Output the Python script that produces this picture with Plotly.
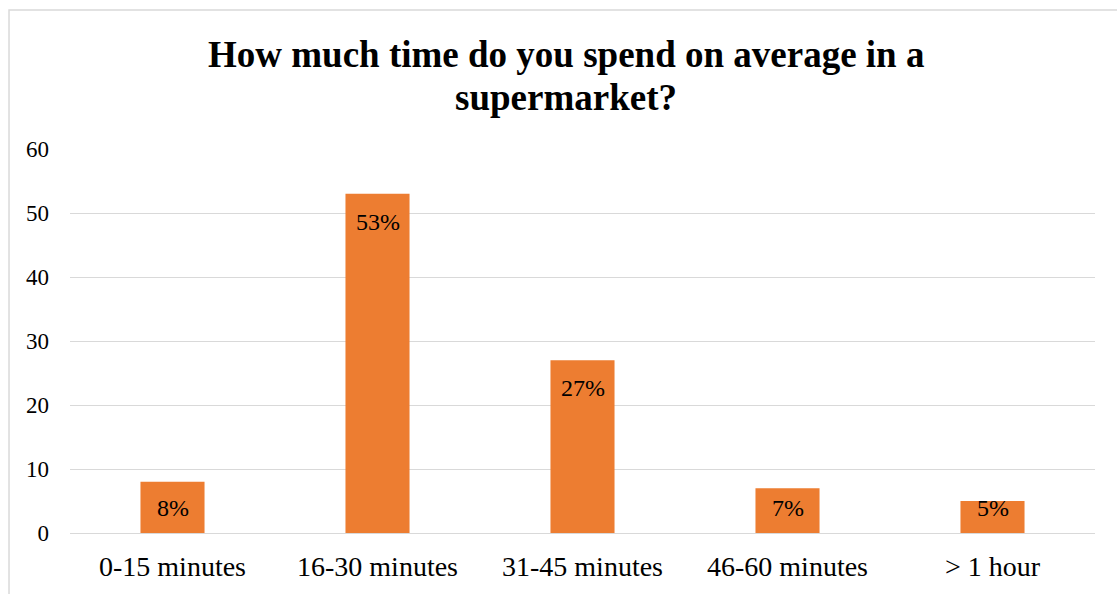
import plotly.graph_objects as go

categories = ["0-15 minutes", "16-30 minutes", "31-45 minutes", "46-60 minutes", "> 1 hour"]
values = [8, 53, 27, 7, 5]
labels = ["8%", "53%", "27%", "7%", "5%"]
y_ticks = [0, 10, 20, 30, 40, 50, 60]
title_lines = ["How much time do you spend on average in a", "supermarket?"]

FONT = "Liberation Serif, Times New Roman, serif"

fig = go.Figure()
fig.add_trace(go.Bar(
    x=categories, y=values,
    marker=dict(color="#ED7D31", line=dict(width=0)),
    hoverinfo="skip",
))

# data labels: inside end, but never lower than a minimum height
min_label_y = 3.9
for c, v, t in zip(categories, values, labels):
    fig.add_annotation(
        x=c, y=max(v - 4.4, min_label_y), text=t, showarrow=False,
        xanchor="center", yanchor="middle",
        font=dict(family=FONT, size=24, color="#000000"),
    )

# title (two lines, tight line spacing)
for line, ty in zip(title_lines, [1.2448, 1.1354]):
    fig.add_annotation(
        xref="paper", yref="paper", x=0.484, y=ty, text="<b>" + line + "</b>",
        showarrow=False, xanchor="center", yanchor="middle",
        font=dict(family=FONT, size=37, color="#000000"),
    )

# chart border
fig.add_shape(type="rect", xref="paper", yref="paper",
              x0=-0.0595, x1=1.2, y0=-0.3, y1=1.362,
              line=dict(color="#D9D9D9", width=1.5), fillcolor="rgba(0,0,0,0)", layer="below")

fig.update_layout(
    width=1117, height=594,
    margin=dict(l=70, r=22, t=149, b=61),
    paper_bgcolor="white", plot_bgcolor="white",
    bargap=0.6875,
    showlegend=False,
    font=dict(family=FONT, color="#000000"),
)
fig.update_xaxes(
    showgrid=False, showline=False, zeroline=False, ticks="",
    tickfont=dict(family=FONT, size=28, color="#000000"),
    ticklabelstandoff=14,
)
fig.update_yaxes(
    range=[0, 60], tickvals=y_ticks, showgrid=True, gridcolor="#D9D9D9", gridwidth=1.3,
    zeroline=True, zerolinecolor="#D9D9D9", zerolinewidth=1.3,
    showline=False, ticks="",
    tickfont=dict(family=FONT, size=23, color="#000000"),
    ticklabelstandoff=20,
)

fig.write_html("out.html")
